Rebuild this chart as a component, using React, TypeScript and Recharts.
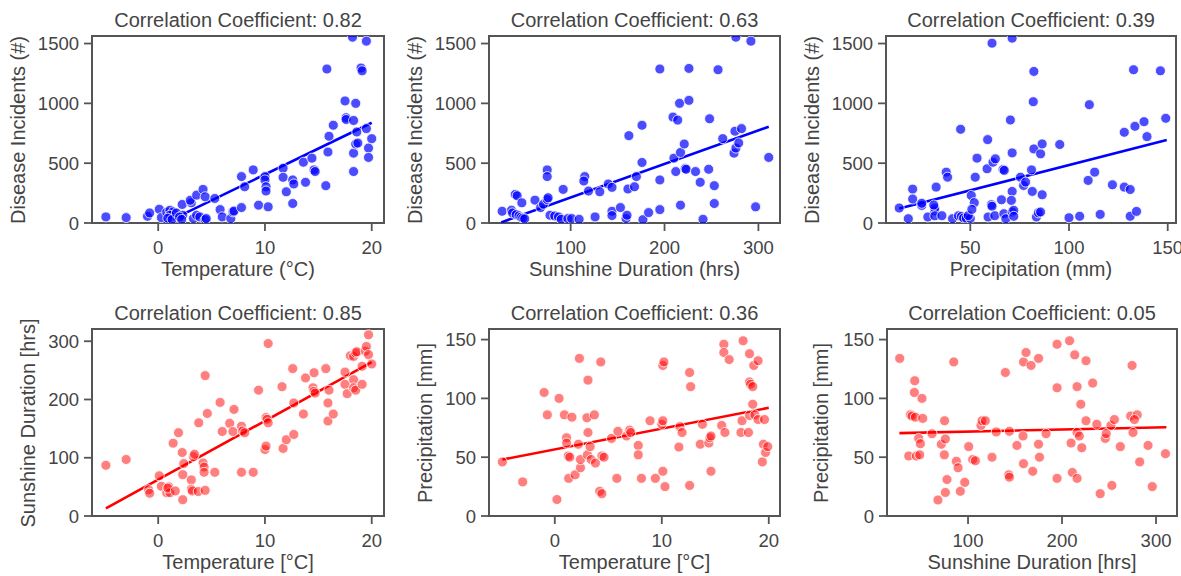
import { ComposedChart, Scatter, Line, XAxis, YAxis, ReferenceArea } from "recharts";

type Pt = [number, number];

// Temperature (°C) vs disease incidents
const tempDisease: Pt[] = [
  [-4.9, 51], [-3.0, 45], [-1.0, 56], [-0.8, 84], [0.1, 115], [0.3, 45], [0.8, 90], [1.1, 107],
  [1.4, 93], [1.1, 65], [0.9, 40], [1.3, 30], [1.7, 84], [2.25, 155], [2.3, 65], [2.0, 50],
  [2.2, 30], [3.1, 169], [3.0, 190], [3.6, 233], [4.2, 281], [4.4, 219], [3.3, 37], [3.6, 65],
  [3.9, 51], [4.4, 28], [4.5, 37], [5.3, 205], [5.8, 112], [6.0, 51], [6.8, 37], [7.0, 93],
  [7.1, 100], [7.8, 129], [7.8, 388], [8.1, 303], [8.9, 444], [9.4, 149], [10.0, 388], [10.0, 360],
  [10.1, 303], [10.1, 267], [10.3, 135], [11.7, 458], [11.7, 382], [12.0, 261], [12.6, 163],
  [12.6, 360], [12.7, 326], [13.6, 508], [13.8, 340], [14.4, 542], [14.6, 444], [14.7, 430],
  [15.7, 312], [15.8, 1287], [15.9, 593], [16.0, 725], [16.4, 817], [17.5, 1020], [17.6, 880],
  [17.6, 865], [18.3, 857], [18.5, 1000], [18.3, 584], [18.3, 430], [18.2, 1553], [19.0, 1295],
  [19.1, 1272], [18.5, 660], [18.6, 761], [18.7, 668], [19.5, 1520], [19.5, 789], [19.7, 626],
  [20.0, 705], [19.7, 548],
];

// Sunshine duration (hrs) vs disease incidents
const sunDisease: Pt[] = [
  [27, 98], [37, 107], [38, 84], [41, 239], [43, 228], [42, 70], [45, 60], [47, 48], [49, 40],
  [51, 35], [48, 169], [62, 191], [68, 129], [71, 157], [75, 197], [76, 211], [75, 444], [75, 388],
  [78, 65], [83, 59], [87, 51], [90, 31], [92, 281], [97, 37], [101, 37], [109, 31], [115, 388],
  [114, 351], [119, 267], [126, 51], [131, 261], [140, 326], [144, 298], [144, 98], [144, 62],
  [153, 129], [159, 37], [160, 65], [161, 284], [162, 730], [168, 303], [170, 388], [176, 506],
  [176, 817], [177, 28], [183, 87], [195, 1287], [195, 360], [195, 112], [210, 542], [209, 885],
  [214, 860], [212, 430], [216, 1000], [217, 149], [217, 590], [221, 660], [222, 455], [223, 449],
  [226, 1292], [226, 1025], [233, 430], [238, 340], [241, 31], [247, 449], [248, 871], [253, 312],
  [253, 163], [257, 1281], [262, 705], [274, 584], [276, 626], [275, 767], [279, 669], [282, 789],
  [276, 1553], [292, 1520], [297, 135], [311, 548],
];

// Precipitation (mm) vs disease incidents
const rainDisease: Pt[] = [
  [14, 125], [18.6, 36], [20.8, 283], [20.8, 200], [25.4, 147], [25.4, 165], [28.5, 50], [32, 100],
  [32, 125], [32, 60], [31.5, 150], [32.7, 300], [35.6, 61], [37.8, 425], [38.5, 383], [41, 36],
  [44, 60], [45.5, 55], [46.6, 42], [48, 40], [50, 38], [49, 62], [45.1, 783], [50.5, 230],
  [52, 170], [50.8, 114], [52.5, 383], [53.4, 542], [58.8, 697], [58.5, 453], [59, 50], [60.7, 153],
  [61, 140], [61, 1503], [61.5, 508], [62.7, 536], [62.4, 61], [65.8, 194], [66.6, 447], [67.2, 440],
  [67, 78], [68, 36], [70.3, 861], [71.2, 586], [71.2, 264], [70.8, 189], [71.2, 92], [72, 106],
  [71.2, 1545], [72, 56], [75.4, 383], [77, 314], [78, 342], [81, 444], [81.4, 264], [81.9, 1014],
  [82.2, 619], [82.2, 1267], [83.5, 50], [84.5, 85], [85.6, 92], [85.6, 578], [86.4, 661], [86.4, 236],
  [95.3, 656], [100, 44], [105.4, 56], [109.7, 356], [110.3, 989], [113, 425], [115.8, 72], [122, 319],
  [128, 758], [128, 300], [131, 280], [131, 56], [132.7, 1281], [133.4, 808], [134.2, 97], [138, 847],
  [139.5, 722], [146.3, 1272], [149, 875],
];

// Temperature vs sunshine duration
const tempSun: Pt[] = [
  [-4.9, 87], [-3.0, 97], [-0.9, 45], [-0.8, 39], [0.1, 69], [0.3, 51], [0.8, 40], [1.0, 50],
  [1.1, 40], [0.9, 48], [1.4, 125], [1.6, 43], [1.9, 143], [2.25, 109], [2.3, 28], [2.3, 71],
  [2.4, 90], [3.1, 62], [3.1, 46], [3.2, 43], [3.3, 102], [3.4, 106], [3.75, 42], [3.8, 160],
  [4.2, 91], [4.3, 84], [4.3, 75], [4.4, 241], [4.4, 44], [4.6, 176], [5.3, 75], [5.8, 195],
  [6.0, 145], [6.7, 159], [7.0, 145], [7.1, 183], [7.8, 154], [7.9, 146], [8.1, 143], [7.8, 75],
  [8.9, 75], [9.4, 216], [10.0, 114], [10.1, 120], [10.1, 169], [10.2, 166], [10.3, 160], [10.3, 296],
  [11.6, 222], [11.7, 116], [12.0, 131], [12.6, 253], [12.7, 140], [12.7, 194], [13.6, 175],
  [13.8, 237], [14.5, 220], [14.6, 214], [14.7, 211], [14.6, 246], [15.7, 253], [15.9, 194],
  [16.0, 216], [15.9, 163], [16.4, 175], [17.5, 247], [17.5, 226], [17.7, 210], [18.0, 275],
  [18.3, 274], [18.5, 280], [18.3, 234], [18.3, 220], [18.5, 216], [18.6, 282], [19.1, 226],
  [19.1, 257], [19.4, 283], [19.5, 291], [19.7, 311], [19.7, 277], [20.0, 261],
];

// Temperature vs precipitation
const tempRain: Pt[] = [
  [-4.9, 46], [-3.0, 29], [-1.0, 105], [-0.7, 86], [0.2, 14], [0.4, 100], [0.9, 86], [1.1, 66.5],
  [1.1, 62], [1.25, 51], [1.3, 32], [1.4, 50], [1.6, 84], [1.9, 35], [2.2, 61], [2.3, 134],
  [2.4, 41], [2.4, 48], [3.0, 83.5], [3.05, 52], [3.1, 71], [3.1, 115.5], [3.3, 59], [3.4, 48],
  [3.7, 86], [3.8, 45], [4.2, 21], [4.4, 19], [4.3, 131], [4.4, 51], [4.6, 50], [5.3, 66],
  [5.8, 32], [5.9, 72], [6.7, 68], [7.0, 73], [7.1, 71], [7.8, 60], [7.8, 52], [8.1, 32],
  [8.9, 81], [9.4, 32], [10.0, 78], [10.1, 81], [10.1, 128], [10.2, 131], [10.1, 38], [10.3, 25],
  [11.6, 58.6], [11.7, 76], [11.9, 71], [12.6, 122], [12.6, 26], [12.7, 110], [13.6, 61],
  [13.8, 78], [14.4, 62], [14.5, 66.5], [14.6, 68], [14.6, 38], [15.6, 77], [15.8, 146],
  [15.8, 139], [15.9, 71], [16.3, 133], [17.4, 71], [17.5, 81], [17.6, 149], [18.1, 71],
  [18.2, 138], [18.2, 114], [18.3, 112], [18.5, 110], [18.5, 95], [18.2, 85.5], [18.7, 86],
  [18.6, 128], [19.0, 132], [19.0, 82], [19.6, 82], [19.4, 46], [19.5, 61], [19.7, 54], [19.9, 59],
];

// Sunshine duration vs precipitation
const sunRain: Pt[] = [
  [27.3, 134], [36.9, 51], [38.7, 86], [40.4, 85], [43.3, 115], [42.9, 105], [44, 84], [45, 51],
  [48.6, 52], [47.5, 66], [49.3, 61.5], [51, 100], [51.8, 83], [61.7, 70], [68, 13.6], [71.6, 61],
  [75, 81], [75.9, 65.5], [74.8, 52], [75.9, 20], [77.6, 31], [84.8, 131], [87.6, 46.5], [89.4, 41],
  [91.8, 21], [96.5, 28.6], [100.7, 59], [105, 48], [107.8, 47], [113.8, 77], [114.9, 81],
  [118.4, 81], [125.5, 50], [130, 71.5], [139.7, 122], [143.3, 35], [144, 33], [144, 72], [152, 60],
  [158.5, 68], [159, 44.5], [159, 131], [161.7, 139], [167, 128], [168.8, 38], [175, 134], [175, 61],
  [176, 50], [183, 70], [194.7, 146], [194.7, 109], [194.7, 32], [208, 149], [209.6, 62], [211, 37],
  [213.5, 137], [216, 110], [216, 71], [218.4, 68], [216, 32], [220, 95], [221, 58], [225.5, 81],
  [225.5, 132], [232.6, 113], [237, 78], [240.6, 19], [246, 66], [247, 70], [252, 77], [255.7, 82],
  [253, 26], [262, 59], [273, 85], [280, 86], [274.5, 128], [275.5, 71], [277, 82], [282.6, 46],
  [291.5, 60], [296, 25], [310, 53],
];

// fitted regression lines (end points)
const fitTempDisease: Pt[] = [[-4.9, -239], [20, 838]];
const fitSunDisease: Pt[] = [[26, 5], [311, 805]];
const fitRainDisease: Pt[] = [[14, 121], [149.5, 693]];
const fitTempSun: Pt[] = [[-4.9, 13], [20, 264]];
const fitTempRain: Pt[] = [[-4.9, 48], [20, 92]];
const fitSunRain: Pt[] = [[27, 70.5], [311, 75.5]];

const titles = [
  "Correlation Coefficient: 0.82",
  "Correlation Coefficient: 0.63",
  "Correlation Coefficient: 0.39",
  "Correlation Coefficient: 0.85",
  "Correlation Coefficient: 0.36",
  "Correlation Coefficient: 0.05",
];

const FONT = '"Liberation Sans", Arial, Helvetica, sans-serif';
const TEXT = "#444";
const EDGE = "#555";

interface PanelProps {
  left: number;
  top: number;
  width: number;
  height: number;
  points: Pt[];
  fit: Pt[];
  xDomain: [number, number];
  yDomain: [number, number];
  xTicks: number[];
  yTicks: number[];
  color: string;
  opacity: number;
  title: string;
  xLabel: string;
  yLabel: string;
  yLabelX: number;
}

function Panel(p: PanelProps) {
  const pts = p.points.map(([x, y]) => ({ x, y }));
  const fitData = p.fit.map(([x, y]) => ({ x, y }));
  const tick = { fontSize: 18.5, fill: TEXT, fontFamily: FONT };

  return (
    <>
      <div
        style={{
          position: "absolute",
          left: p.left,
          top: p.top - 26,
          width: p.width,
          textAlign: "center",
          fontSize: 20,
          lineHeight: "20px",
          color: TEXT,
          whiteSpace: "nowrap",
        }}
      >
        {p.title}
      </div>
      <div style={{ position: "absolute", left: p.left - 70, top: p.top - 10 }}>
        <ComposedChart
          width={p.width + 80}
          height={p.height + 50}
          margin={{ top: 10, right: 10, left: 0, bottom: 0 }}
        >
          <XAxis
            type="number"
            dataKey="x"
            domain={p.xDomain}
            ticks={p.xTicks}
            allowDataOverflow
            axisLine={false}
            stroke={EDGE}
            tickLine={{ stroke: EDGE, strokeWidth: 1.8 }}
            tickSize={8}
            tickMargin={10}
            height={40}
            tick={tick}
          />
          <YAxis
            type="number"
            dataKey="y"
            domain={p.yDomain}
            ticks={p.yTicks}
            allowDataOverflow
            axisLine={false}
            stroke={EDGE}
            tickLine={{ stroke: EDGE, strokeWidth: 1.8 }}
            tickSize={8}
            tickMargin={5}
            width={70}
            tick={tick}
          />
          <ReferenceArea
            x1={p.xDomain[0]}
            x2={p.xDomain[1]}
            y1={p.yDomain[0]}
            y2={p.yDomain[1]}
            fill="none"
            fillOpacity={0}
            stroke={EDGE}
            strokeWidth={2}
          />
          <Scatter
            data={pts}
            dataKey="y"
            isAnimationActive={false}
            shape={(s: any) => (
              <circle
                cx={s.cx}
                cy={s.cy}
                r={5}
                fill={p.color}
                fillOpacity={p.opacity}
                stroke="#fff"
                strokeWidth={0.8}
              />
            )}
          />
          <Line
            data={fitData}
            dataKey="y"
            type="linear"
            stroke={p.color}
            strokeWidth={2.6}
            dot={false}
            activeDot={false}
            isAnimationActive={false}
          />
        </ComposedChart>
      </div>
      <div
        style={{
          position: "absolute",
          left: p.left,
          top: p.top + p.height + 36,
          width: p.width,
          textAlign: "center",
          fontSize: 20,
          lineHeight: "20px",
          color: TEXT,
          whiteSpace: "nowrap",
        }}
      >
        {p.xLabel}
      </div>
      <div
        style={{
          position: "absolute",
          left: p.yLabelX,
          top: p.top + p.height / 2,
          transform: "translate(-50%, -50%) rotate(-90deg)",
          fontSize: 20,
          lineHeight: "20px",
          color: TEXT,
          whiteSpace: "nowrap",
        }}
      >
        {p.yLabel}
      </div>
    </>
  );
}

export default function App() {
  const BLUE = "#0000ff";
  const RED = "#ff0000";
  const tempDom: [number, number] = [-6.2, 21.15];
  const sunDom: [number, number] = [13, 323];
  const rainDom: [number, number] = [7.3, 154.2];

  return (
    <div
      style={{
        position: "absolute",
        left: 0,
        top: 0,
        width: 1181,
        height: 576,
        background: "#fff",
        fontFamily: FONT,
        overflow: "hidden",
      }}
    >
      <Panel left={92} top={36} width={292} height={187} points={tempDisease} fit={fitTempDisease}
        xDomain={tempDom} yDomain={[0, 1563]} xTicks={[0, 10, 20]} yTicks={[0, 500, 1000, 1500]}
        color={BLUE} opacity={0.7} title={titles[0]} xLabel="Temperature (°C)"
        yLabel="Disease Incidents (#)" yLabelX={18} />
      <Panel left={489} top={36} width={291} height={187} points={sunDisease} fit={fitSunDisease}
        xDomain={sunDom} yDomain={[0, 1563]} xTicks={[100, 200, 300]} yTicks={[0, 500, 1000, 1500]}
        color={BLUE} opacity={0.7} title={titles[1]} xLabel="Sunshine Duration (hrs)"
        yLabel="Disease Incidents (#)" yLabelX={415} />
      <Panel left={886} top={36} width={290} height={187} points={rainDisease} fit={fitRainDisease}
        xDomain={rainDom} yDomain={[0, 1563]} xTicks={[50, 100, 150]} yTicks={[0, 500, 1000, 1500]}
        color={BLUE} opacity={0.7} title={titles[2]} xLabel="Precipitation (mm)"
        yLabel="Disease Incidents (#)" yLabelX={812} />
      <Panel left={92} top={329} width={292} height={187} points={tempSun} fit={fitTempSun}
        xDomain={tempDom} yDomain={[0, 321]} xTicks={[0, 10, 20]} yTicks={[0, 100, 200, 300]}
        color={RED} opacity={0.5} title={titles[3]} xLabel="Temperature [°C]"
        yLabel="Sunshine Duration [hrs]" yLabelX={28} />
      <Panel left={489} top={329} width={291} height={187} points={tempRain} fit={fitTempRain}
        xDomain={[-6.15, 21.05]} yDomain={[0, 159]} xTicks={[0, 10, 20]} yTicks={[0, 50, 100, 150]}
        color={RED} opacity={0.5} title={titles[4]} xLabel="Temperature [°C]"
        yLabel="Precipitation [mm]" yLabelX={425} />
      <Panel left={887} top={329} width={290} height={187} points={sunRain} fit={fitSunRain}
        xDomain={[13.8, 322.3]} yDomain={[0, 159]} xTicks={[100, 200, 300]} yTicks={[0, 50, 100, 150]}
        color={RED} opacity={0.5} title={titles[5]} xLabel="Sunshine Duration [hrs]"
        yLabel="Precipitation [mm]" yLabelX={821} />
    </div>
  );
}
